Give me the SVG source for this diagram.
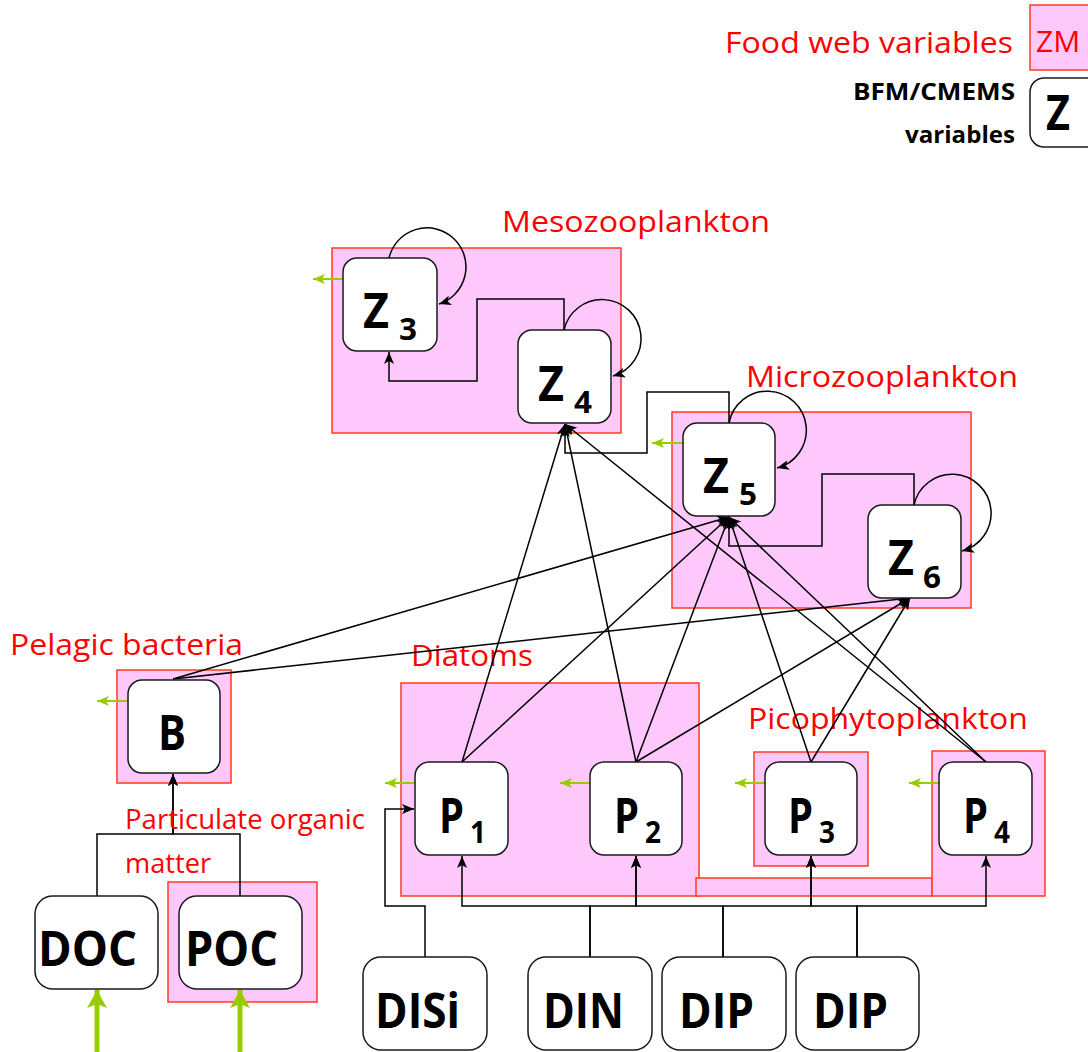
<svg xmlns="http://www.w3.org/2000/svg" width="1088" height="1052" viewBox="0 0 1088 1052">
<style>
.grp{fill:#ffc8fc;stroke:#ff3b1f;stroke-width:1.5}
.nd{fill:#fff;stroke:#1a1a1a;stroke-width:1.5}
.lbl{font-family:"Open Sans","Liberation Sans",Arial,sans-serif;font-size:30px;fill:#ff0000}
.big{font-family:"Open Sans","Liberation Sans",Arial,sans-serif;font-weight:bold;font-size:48px;fill:#000}
.sub{font-family:"Open Sans","Liberation Sans",Arial,sans-serif;font-weight:bold;font-size:31px;fill:#000}
.nut{font-family:"Open Sans","Liberation Sans",Arial,sans-serif;font-weight:bold;font-size:48px;fill:#000}
.leg{font-family:"Open Sans","Liberation Sans",Arial,sans-serif;font-weight:bold;font-size:23px;fill:#000}
.e{fill:none;stroke:#000;stroke-width:1.5;marker-end:url(#ab)}
.g{fill:none;stroke:#99cc00;stroke-width:2;marker-end:url(#ag)}
.gt{fill:none;stroke:#99cc00;stroke-width:5;marker-end:url(#agt)}
</style>
<defs>
<marker id="ab" viewBox="0 0 12 10" refX="12" refY="5" markerWidth="12" markerHeight="10" orient="auto" markerUnits="userSpaceOnUse"><path d="M0,0 L12,5 L0,10 L3,5 z" fill="#000"/></marker>
<marker id="ag" viewBox="0 0 12 10" refX="12" refY="5" markerWidth="12" markerHeight="10" orient="auto" markerUnits="userSpaceOnUse"><path d="M0,0 L12,5 L0,10 L3,5 z" fill="#99cc00"/></marker>
<marker id="agt" viewBox="0 0 18 20" refX="18" refY="10" markerWidth="18" markerHeight="20" orient="auto" markerUnits="userSpaceOnUse"><path d="M0,0 L18,10 L0,20 L4,10 z" fill="#99cc00"/></marker>
</defs>

<g id="legend">
<text class="lbl" x="725" y="53" textLength="288" lengthAdjust="spacingAndGlyphs">Food web variables</text>
<rect class="grp" x="1030" y="5" width="70" height="65"/>
<text class="lbl" x="1036" y="52">ZM</text>
<text class="leg" x="853" y="100" textLength="162" lengthAdjust="spacingAndGlyphs">BFM/CMEMS</text>
<text class="leg" x="905" y="143" textLength="110" lengthAdjust="spacingAndGlyphs">variables</text>
<rect class="nd" x="1030" y="78" width="80" height="69" rx="14"/>
<text class="big" x="1046" y="130" textLength="24" lengthAdjust="spacingAndGlyphs">Z</text>
</g>

<g id="groups">
<rect id="meso" class="grp" x="332" y="248" width="289" height="185"/>
<rect id="micro" class="grp" x="672" y="412" width="299" height="196"/>
<rect id="diatoms" class="grp" x="401" y="683" width="298" height="213"/>
<rect id="strip" class="grp" x="696" y="878" width="236" height="18"/>
<rect id="pico3" class="grp" x="754" y="752" width="114" height="114"/>
<rect id="pico4" class="grp" x="932" y="751" width="113" height="145"/>
<rect id="bact" class="grp" x="117" y="670" width="114" height="113"/>
<rect id="poc-grp" class="grp" x="168" y="882" width="149" height="120"/>
<text class="lbl" x="502" y="232" textLength="268" lengthAdjust="spacingAndGlyphs">Mesozooplankton</text>
<text class="lbl" x="746" y="387" textLength="272" lengthAdjust="spacingAndGlyphs">Microzooplankton</text>
<text class="lbl" x="411" y="666" textLength="122" lengthAdjust="spacingAndGlyphs">Diatoms</text>
<text class="lbl" x="748" y="729" textLength="280" lengthAdjust="spacingAndGlyphs">Picophytoplankton</text>
<text class="lbl" x="10" y="655" textLength="233" lengthAdjust="spacingAndGlyphs">Pelagic bacteria</text>
</g>

<g id="connectors">
<path class="e" d="M389,258 A39,39 0 1 1 439,304"/>
<path class="e" d="M564,330 A39,39 0 1 1 613,376"/>
<path class="e" d="M729,423 A39,39 0 1 1 777,468"/>
<path class="e" d="M914,505 A39,39 0 1 1 962,551"/>
<path class="e" d="M564,330 V299 H477 V381 H389 V352"/>
<path class="e" d="M729,423 V392 H647 V453 H565 V425"/>
<path class="e" d="M914,505 V474 H822 V546 H729 V518"/>
<path class="e" d="M462,762 L565,424"/>
<path class="e" d="M636,762 L565,424"/>
<path class="e" d="M986,762 L565,424"/>
<path class="e" d="M173,679 L729,517"/>
<path class="e" d="M462,762 L729,517"/>
<path class="e" d="M636,762 L729,517"/>
<path class="e" d="M811,762 L729,517"/>
<path class="e" d="M986,762 L729,517"/>
<path class="e" d="M173,679 L910,598"/>
<path class="e" d="M636,762 L910,598"/>
<path class="e" d="M811,762 L910,598"/>
<path class="e" d="M425,957 V906 H385 V809 H414"/>
<path class="e" d="M590,957 V906 H462 V856"/>
<path class="e" d="M590,957 V906 H636 V856"/>
<path class="e" d="M723,957 V906 H636 V856"/>
<path class="e" d="M723,957 V906 H811 V856"/>
<path class="e" d="M857,957 V906 H811 V856"/>
<path class="e" d="M857,957 V906 H986 V856"/>
<path class="e" d="M97,896 V834 H173 V774"/>
<path class="e" d="M240,896 V834 H173 V774"/>
<path class="g" d="M343,279 H313"/>
<path class="g" d="M683,443 H652"/>
<path class="g" d="M128,701 H97"/>
<path class="g" d="M415,783 H385"/>
<path class="g" d="M590,783 H560"/>
<path class="g" d="M765,783 H735"/>
<path class="g" d="M939,783 H909"/>
<path class="gt" d="M97,1052 V990"/>
<path class="gt" d="M240,1052 V990"/>
</g>

<text class="lbl" x="125" y="829" style="font-size:27px" textLength="240" lengthAdjust="spacingAndGlyphs">Particulate organic</text>
<text class="lbl" x="125" y="873" style="font-size:27px" textLength="86" lengthAdjust="spacingAndGlyphs">matter</text>

<g id="Z3"><rect class="nd" x="343" y="258" width="94" height="93" rx="14"/><text class="big" x="363" y="328" textLength="26" lengthAdjust="spacingAndGlyphs">Z</text><text class="sub" x="399" y="340" textLength="18" lengthAdjust="spacingAndGlyphs">3</text></g>
<g id="Z4"><rect class="nd" x="518" y="330" width="93" height="93" rx="14"/><text class="big" x="538" y="401" textLength="26" lengthAdjust="spacingAndGlyphs">Z</text><text class="sub" x="574" y="413" textLength="18" lengthAdjust="spacingAndGlyphs">4</text></g>
<g id="Z5"><rect class="nd" x="683" y="423" width="92" height="93" rx="14"/><text class="big" x="703" y="493" textLength="26" lengthAdjust="spacingAndGlyphs">Z</text><text class="sub" x="739" y="505" textLength="18" lengthAdjust="spacingAndGlyphs">5</text></g>
<g id="Z6"><rect class="nd" x="868" y="505" width="93" height="93" rx="14"/><text class="big" x="888" y="575" textLength="26" lengthAdjust="spacingAndGlyphs">Z</text><text class="sub" x="923" y="588" textLength="18" lengthAdjust="spacingAndGlyphs">6</text></g>
<g id="B"><rect class="nd" x="128" y="680" width="92" height="93" rx="14"/><text class="big" x="158" y="750" textLength="28" lengthAdjust="spacingAndGlyphs">B</text></g>
<g id="P1"><rect class="nd" x="415" y="762" width="93" height="93" rx="14"/><text class="nut" x="439" y="833" textLength="25" lengthAdjust="spacingAndGlyphs">P</text><text class="sub" x="470" y="843" textLength="16" lengthAdjust="spacingAndGlyphs">1</text></g>
<g id="P2"><rect class="nd" x="590" y="762" width="92" height="93" rx="14"/><text class="nut" x="614" y="833" textLength="25" lengthAdjust="spacingAndGlyphs">P</text><text class="sub" x="645" y="843" textLength="16" lengthAdjust="spacingAndGlyphs">2</text></g>
<g id="P3"><rect class="nd" x="765" y="762" width="92" height="93" rx="14"/><text class="nut" x="788" y="833" textLength="25" lengthAdjust="spacingAndGlyphs">P</text><text class="sub" x="819" y="843" textLength="16" lengthAdjust="spacingAndGlyphs">3</text></g>
<g id="P4"><rect class="nd" x="939" y="762" width="93" height="93" rx="14"/><text class="nut" x="963" y="833" textLength="25" lengthAdjust="spacingAndGlyphs">P</text><text class="sub" x="994" y="843" textLength="16" lengthAdjust="spacingAndGlyphs">4</text></g>
<g id="DOC"><rect class="nd" x="35" y="896" width="123" height="93" rx="18"/><text class="nut" x="38" y="966" textLength="99" lengthAdjust="spacingAndGlyphs">DOC</text></g>
<g id="POC"><rect class="nd" x="179" y="896" width="123" height="93" rx="18"/><text class="nut" x="185" y="966" textLength="93" lengthAdjust="spacingAndGlyphs">POC</text></g>
<g id="DISi"><rect class="nd" x="363" y="957" width="124" height="93" rx="18"/><text class="nut" x="375" y="1028" textLength="85" lengthAdjust="spacingAndGlyphs">DISi</text></g>
<g id="DIN"><rect class="nd" x="528" y="957" width="124" height="93" rx="18"/><text class="nut" x="543" y="1028" textLength="81" lengthAdjust="spacingAndGlyphs">DIN</text></g>
<g id="DIP1"><rect class="nd" x="662" y="957" width="124" height="93" rx="18"/><text class="nut" x="679" y="1028" textLength="75" lengthAdjust="spacingAndGlyphs">DIP</text></g>
<g id="DIP2"><rect class="nd" x="796" y="957" width="123" height="93" rx="18"/><text class="nut" x="813" y="1028" textLength="75" lengthAdjust="spacingAndGlyphs">DIP</text></g>
</svg>
